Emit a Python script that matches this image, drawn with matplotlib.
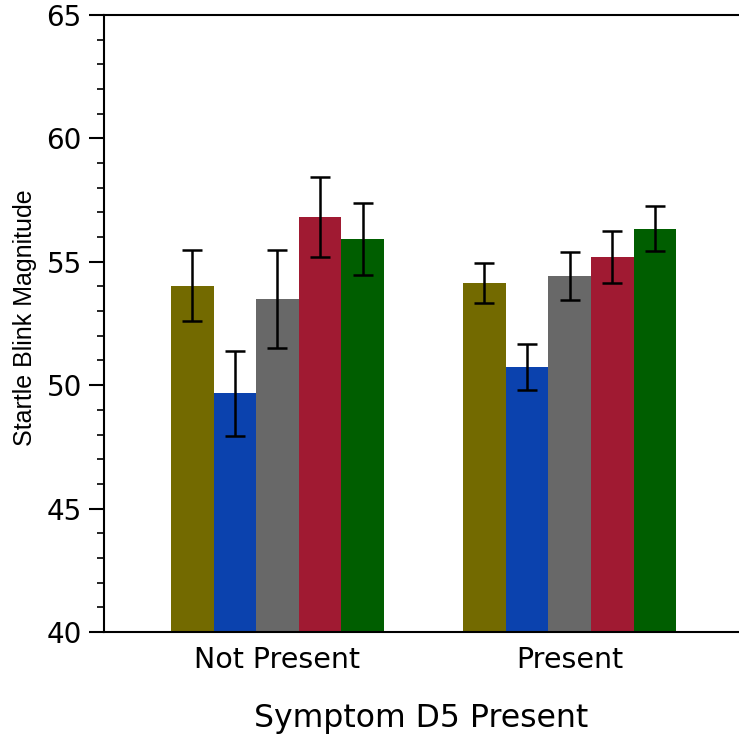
import numpy as np
import matplotlib.pyplot as plt
from matplotlib.ticker import MultipleLocator

groups = ['Not Present', 'Present']
colors = ['#736a00', '#0b42ae', '#686868', '#a01a32', '#005e00']

# bar means for each of the five conditions, per group
means = [
    [54.02, 49.68, 53.49, 56.82, 55.92],
    [54.14, 50.74, 54.42, 55.19, 56.33],
]
errs = [
    [1.44, 1.72, 1.98, 1.63, 1.45],
    [0.82, 0.92, 0.96, 1.05, 0.91],
]

fig = plt.figure(figsize=(7.39, 7.34), dpi=100)
ax = fig.add_axes([0.1407, 0.139, 0.8593, 0.8406])

x = np.arange(len(groups))
width = 0.146
for k in range(5):
    pos = x + (k - 2) * width
    vals = [means[g][k] for g in range(len(groups))]
    e = [errs[g][k] for g in range(len(groups))]
    ax.bar(pos, vals, width, color=colors[k], zorder=2)
    ax.errorbar(pos, vals, yerr=e, fmt='none', ecolor='black',
                elinewidth=1.8, capsize=7.5, capthick=1.8, zorder=3)

ax.set_ylim(40, 65)
ax.set_xlim(-0.594, 1.58)
ax.set_xticks(x)
ax.set_xticklabels(groups, fontsize=20.5)
ax.yaxis.set_major_locator(MultipleLocator(5))
ax.yaxis.set_minor_locator(MultipleLocator(1))
ax.tick_params(axis='y', which='major', length=11, width=1.5, labelsize=20, pad=5)
ax.tick_params(axis='y', which='minor', length=5, width=1.2)
ax.tick_params(axis='x', length=0, pad=10)

for s in ['left', 'bottom', 'top']:
    ax.spines[s].set_linewidth(1.5)
ax.spines['right'].set_visible(False)

ax.set_ylabel('Startle Blink Magnitude', family='Liberation Sans', fontsize=18)
ax.yaxis.set_label_coords(-0.106, 0.51)
ax.set_xlabel('Symptom D5 Present', fontsize=22.7, labelpad=21)

fig.savefig('out.png', dpi=100)
